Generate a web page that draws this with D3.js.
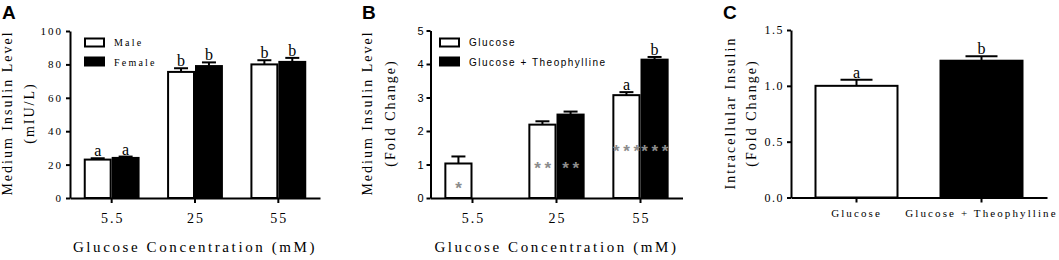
<!DOCTYPE html>
<html>
<head>
<meta charset="utf-8">
<script src="https://cdn.jsdelivr.net/npm/d3@7"></script>
<style>
    body { margin: 0; background: #fff; }
    svg { display: block; }
    .serif { font-family: "Liberation Serif", "Times New Roman", serif; }
    .sans { font-family: "Liberation Sans", Arial, sans-serif; }
</style>
</head>
<body>
<svg id="chart"></svg>
<script>
// Panel A - medium insulin by sex
const concentrations = ['5.5', '25', '55'];
const sexSeries = ['Male', 'Female'];
const maleValues = [23, 75.5, 80];
const maleErrors = [0.8, 2.2, 2.5];
const femaleValues = [24, 79, 81.5];
const femaleErrors = [0.8, 2.2, 2.4];
const lettersA = [['a', 'a'], ['b', 'b'], ['b', 'b']];
const ticksA = [0, 20, 40, 60, 80, 100];

// Panel B - medium insulin fold change
const treatSeries = ['Glucose', 'Glucose + Theophylline'];
const glucoseValues = [1.03, 2.19, 3.07];
const glucoseErrors = [0.21, 0.1, 0.09];
const theoValues = [null, 2.49, 4.13];
const theoErrors = [null, 0.09, 0.08];
const lettersB = [[null, null], [null, null], ['a', 'b']];
const starsB = [['*', null], ['**', '**'], ['***', '***']];
const starLevelsB = [0.4, 1.0, 1.5];
const ticksB = [0, 1, 2, 3, 4, 5];

// Panel C - intracellular insulin
const cValues = [1.0, 1.225];
const cErrors = [0.055, 0.04];
const lettersC = ['a', 'b'];
const ticksC = [0, 0.5, 1.0, 1.5];

const width = 1059;
const height = 260;

const svg = d3.select('#chart')
    .attr('width', width)
    .attr('height', height);

svg.append('rect').attr('width', width).attr('height', height).attr('fill', '#fff');

const fills = ['#fff', '#000'];

function styleAxis(g) {
    g.select('.domain').attr('stroke-width', 2).attr('stroke', '#000');
    g.selectAll('.tick line').attr('stroke-width', 2).attr('stroke', '#000');
}

function panelLetter(label, x) {
    svg.append('text')
        .attr('class', 'sans')
        .attr('x', x).attr('y', 18.5)
        .attr('font-size', 19)
        .attr('font-weight', 'bold')
        .text(label);
}

function yTitle(lines, xs, yMid) {
    lines.forEach((line, i) => {
        svg.append('text')
            .attr('class', 'serif')
            .attr('transform', `translate(${xs[i]},${yMid}) rotate(-90)`)
            .attr('text-anchor', 'middle')
            .attr('font-size', 14)
            .attr('letter-spacing', 2)
            .text(line);
    });
}

function errorBar(g, cx, yTop, yCap, capW) {
    g.append('line')
        .attr('x1', cx).attr('x2', cx)
        .attr('y1', yTop).attr('y2', yCap)
        .attr('stroke', '#000').attr('stroke-width', 2);
    g.append('line')
        .attr('x1', cx - capW / 2).attr('x2', cx + capW / 2)
        .attr('y1', yCap).attr('y2', yCap)
        .attr('stroke', '#000').attr('stroke-width', 2);
}

// Grouped bar panel (A and B share the same layout)
function groupedPanel(opts) {
    const x0 = d3.scaleBand()
        .domain(concentrations)
        .range(opts.xRange)
        .paddingInner(0.33)
        .paddingOuter(0.165);
    const x1 = d3.scaleBand()
        .domain(opts.series)
        .range([0, x0.bandwidth()]);
    const y = d3.scaleLinear().domain(opts.yDomain).range(opts.yRange);

    const g = svg.append('g');

    // y axis
    const yAxis = g.append('g')
        .attr('transform', `translate(${opts.xRange[0]},0)`)
        .call(d3.axisLeft(y).tickValues(opts.ticks).tickSize(4).tickPadding(3).tickSizeOuter(0).tickFormat(opts.tickFormat));
    styleAxis(yAxis);
    yAxis.selectAll('text')
        .attr('class', opts.yTickClass)
        .attr('font-size', 11)
        .attr('letter-spacing', opts.yTickClass === 'serif' ? 2 : 0)
        .attr('fill', '#000');

    // bars
    concentrations.forEach((c, ci) => {
        opts.values.forEach((vals, si) => {
            const v = vals[ci];
            if (v == null) return;
            const bx = x0(c) + x1(opts.series[si]);
            const bw = x1.bandwidth();
            g.append('rect')
                .attr('x', bx + 1).attr('y', y(v))
                .attr('width', bw - 2).attr('height', y(0) - y(v))
                .attr('fill', fills[si])
                .attr('stroke', '#000').attr('stroke-width', 2);
            const err = opts.errors[si][ci];
            errorBar(g, bx + bw / 2, y(v), y(v + err), 14);

            const letter = opts.letters[ci][si];
            if (letter) {
                g.append('text')
                    .attr('class', 'serif')
                    .attr('x', bx + bw / 2).attr('y', y(v + err) - 2)
                    .attr('text-anchor', 'middle')
                    .attr('font-size', 16)
                    .text(letter);
            }
            // significance stars inside the bars
            if (opts.stars && opts.stars[ci][si]) {
                g.append('text')
                    .attr('class', 'sans')
                    .attr('x', bx + bw / 2 + 2).attr('y', y(opts.starLevels[ci]) + 9)
                    .attr('text-anchor', 'middle')
                    .attr('font-size', 17)
                    .attr('font-weight', 'bold')
                    .attr('letter-spacing', 3.6)
                    .attr('fill', '#8c8c8c')
                    .text(opts.stars[ci][si]);
            }
        });
    });

    // x axis
    const xAxis = g.append('g')
        .attr('transform', `translate(0,${opts.yRange[0]})`)
        .call(d3.axisBottom(x0).tickSize(5).tickPadding(10).tickSizeOuter(0));
    styleAxis(xAxis);
    xAxis.selectAll('text')
        .attr('class', 'serif')
        .attr('font-size', 14)
        .attr('letter-spacing', 2)
        .attr('dx', 1)
        .attr('fill', '#000');

    // x axis title
    svg.append('text')
        .attr('class', 'serif')
        .attr('x', (opts.xRange[0] + opts.xRange[1]) / 2).attr('y', 252)
        .attr('text-anchor', 'middle')
        .attr('font-size', 15)
        .attr('letter-spacing', 2.6)
        .text('Glucose Concentration (mM)');

    // legend
    opts.series.forEach((s, i) => {
        svg.append('rect')
            .attr('x', opts.legendX).attr('y', 38.5 + i * 19)
            .attr('width', 19).attr('height', 8)
            .attr('fill', fills[i])
            .attr('stroke', '#000').attr('stroke-width', 2);
        svg.append('text')
            .attr('class', opts.legendClass)
            .attr('x', opts.legendX + 29).attr('y', 46 + i * 19.5)
            .attr('font-size', 10)
            .attr('letter-spacing', opts.legendSpacing)
            .text(s);
    });
}

// ---- Panel A
panelLetter('A', 2);
yTitle(['Medium Insulin Level', '(mIU/L)'], [12, 34], 113);
groupedPanel({
    xRange: [70, 320],
    yDomain: [0, 100],
    yRange: [198, 31],
    ticks: ticksA,
    tickFormat: d3.format('d'),
    yTickClass: 'serif',
    series: sexSeries,
    values: [maleValues, femaleValues],
    errors: [maleErrors, femaleErrors],
    letters: lettersA,
    legendX: 85,
    legendClass: 'serif',
    legendSpacing: 2.2
});

// ---- Panel B
panelLetter('B', 362);
yTitle(['Medium Insulin Level', '(Fold Change)'], [372, 395], 113);
groupedPanel({
    xRange: [430.5, 682.5],
    yDomain: [0, 5],
    yRange: [198, 30.5],
    ticks: ticksB,
    tickFormat: d3.format('d'),
    yTickClass: 'sans',
    series: treatSeries,
    values: [glucoseValues, theoValues],
    errors: [glucoseErrors, theoErrors],
    letters: lettersB,
    stars: starsB,
    starLevels: starLevelsB,
    legendX: 440,
    legendClass: 'sans',
    legendSpacing: 1.5
});

// ---- Panel C
panelLetter('C', 723);
yTitle(['Intracellular Insulin', '(Fold Change)'], [735, 756], 113);

const xC = d3.scaleBand()
    .domain(treatSeries)
    .range([791, 1047])
    .paddingInner(0.328)
    .paddingOuter(0.188);
const yC = d3.scaleLinear().domain([0, 1.5]).range([197.5, 30]);

const gC = svg.append('g');
const yAxisC = gC.append('g')
    .attr('transform', 'translate(791,0)')
    .call(d3.axisLeft(yC).tickValues(ticksC).tickSize(4).tickPadding(3).tickSizeOuter(0).tickFormat(d3.format('.1f')));
styleAxis(yAxisC);
yAxisC.selectAll('text')
    .attr('class', 'serif')
    .attr('font-size', 12)
    .attr('letter-spacing', 1.5)
    .attr('fill', '#000');

treatSeries.forEach((s, i) => {
    const v = cValues[i];
    const bx = xC(s);
    const bw = xC.bandwidth();
    gC.append('rect')
        .attr('x', bx + 1).attr('y', yC(v))
        .attr('width', bw - 2).attr('height', yC(0) - yC(v))
        .attr('fill', fills[i])
        .attr('stroke', '#000').attr('stroke-width', 2);
    errorBar(gC, bx + bw / 2, yC(v), yC(v + cErrors[i]), 32);
    gC.append('text')
        .attr('class', 'serif')
        .attr('x', bx + bw / 2).attr('y', yC(v + cErrors[i]) - 2)
        .attr('text-anchor', 'middle')
        .attr('font-size', 16)
        .text(lettersC[i]);
});

const xAxisC = gC.append('g')
    .attr('transform', 'translate(0,197.5)')
    .call(d3.axisBottom(xC).tickSize(5).tickPadding(7).tickSizeOuter(0));
styleAxis(xAxisC);
xAxisC.selectAll('text')
    .attr('class', 'serif')
    .attr('font-size', 11)
    .attr('letter-spacing', 2.1)
    .attr('dx', 0)
    .attr('fill', '#000');
</script>
</body>
</html>
